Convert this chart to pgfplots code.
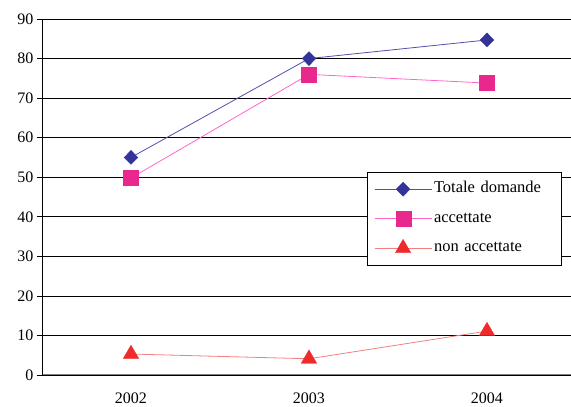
\documentclass[border=0pt]{standalone}
\usepackage{pgfplots}
\pgfplotsset{compat=1.18}
\usepackage{fontspec}
\setmainfont{Liberation Serif}
\definecolor{cNavy}{HTML}{333399}
\definecolor{cNavyL}{HTML}{5050B0}
\definecolor{cMag}{HTML}{E8288C}
\definecolor{cPinkL}{HTML}{FF66CC}
\definecolor{cRed}{HTML}{EE2A2A}
\definecolor{cRedL}{HTML}{F28080}
\begin{document}
\begin{tikzpicture}
\useasboundingbox (-42pt,-32pt) rectangle (529pt,375pt);
\begin{axis}[
  at={(0,0)}, anchor=south west,
  scale only axis, width=529pt, height=356pt,
  xmin=0, xmax=2.972, ymin=0, ymax=90,
  ytick={0,10,...,90},
  xtick={0.5,1.5,2.5}, xticklabels={2002,2003,2004},
  extra x ticks={1,2}, extra x tick labels={},
  extra x tick style={major tick length=5pt, tick style={black, line width=0.6pt}, tick align=outside},
  major x tick style={draw=none},
  ymajorgrids, grid style={black, line width=0.7pt},
  axis x line*=bottom, axis y line*=left,
  x axis line style={-, draw=gray, line width=1pt},
  y axis line style={-, draw=black, line width=0.7pt},
  ytick style={black, line width=0.6pt}, tick align=outside, major tick length=5pt,
  tick label style={font=\fontsize{16}{18}\selectfont},
  /pgf/number format/assume math mode=true,
  xticklabel style={yshift=-9pt},
  legend style={at={(0.614,0.570)}, anchor=north west, draw=black, line width=0.8pt,
    font=\fontsize{16.5}{18}\selectfont, inner xsep=7pt, inner ysep=2pt,
    row sep=0pt, text width=118pt,
    nodes={text height=12.5pt, text depth=5pt, inner ysep=6pt}},
  legend cell align=left,
  legend image code/.code={\draw[#1] (0pt,0pt) -- (57pt,0pt); \draw[#1, mark repeat=2, mark phase=2] plot coordinates {(0pt,0pt) (28.5pt,0pt) (57pt,0pt)};},
  clip=false,
]
\addplot[color=cNavyL, line width=0.8pt, mark=diamond*, mark size=7pt,
  mark options={xscale=1.3, fill=cNavy, draw=cNavy, line width=0.4pt}]
  coordinates {(0.5,55) (1.5,80) (2.5,84.7)};
\addlegendentry{Totale domande}
\addplot[color=cPinkL, line width=0.8pt, mark=square*, mark size=7.5pt,
  mark options={fill=cMag, draw=cMag, line width=0.2pt}]
  coordinates {(0.5,49.8) (1.5,76) (2.5,73.8)};
\addlegendentry{accettate}
\addplot[color=cRedL, line width=0.8pt, mark=triangle*, mark size=9pt,
  mark options={fill=cRed, draw=cRed, line width=0.2pt}]
  coordinates {(0.5,5.3) (1.5,4.1) (2.5,11.1)};
\addlegendentry{non accettate}
\end{axis}
\end{tikzpicture}
\end{document}
